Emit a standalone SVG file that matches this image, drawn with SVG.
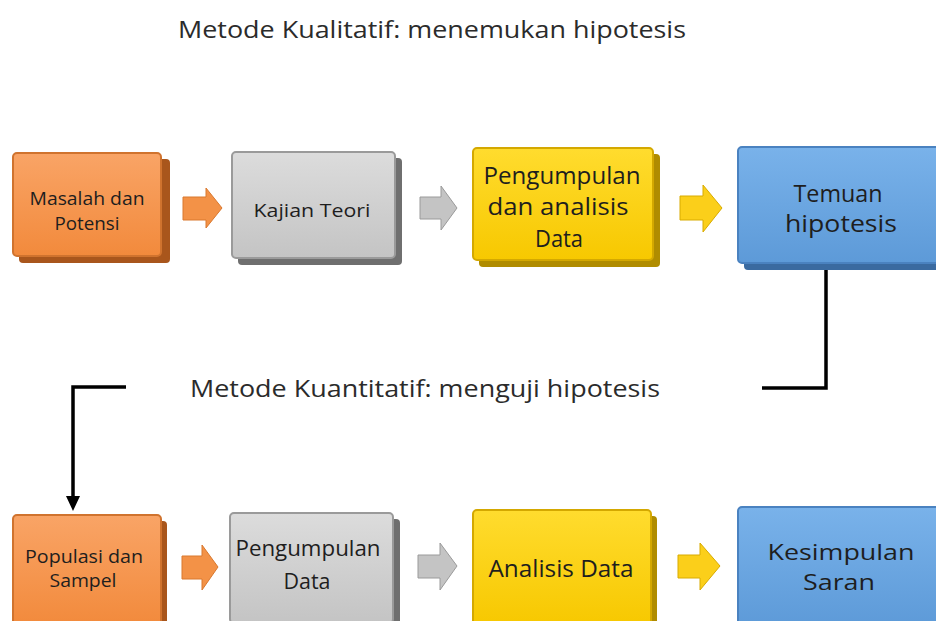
<svg xmlns="http://www.w3.org/2000/svg" width="936" height="621" viewBox="0 0 936 621">
<defs>
<linearGradient id="gOr" x1="0" y1="0" x2="0" y2="1"><stop offset="0" stop-color="#f9a466"/><stop offset="1" stop-color="#f28a3c"/></linearGradient>
<linearGradient id="gGr" x1="0" y1="0" x2="0" y2="1"><stop offset="0" stop-color="#dcdcdc"/><stop offset="1" stop-color="#c4c4c4"/></linearGradient>
<linearGradient id="gYe" x1="0" y1="0" x2="0" y2="1"><stop offset="0" stop-color="#ffdc2e"/><stop offset="1" stop-color="#f7c800"/></linearGradient>
<linearGradient id="gBl" x1="0" y1="0" x2="0" y2="1"><stop offset="0" stop-color="#79b2ea"/><stop offset="1" stop-color="#5d9ad8"/></linearGradient>
</defs>
<style>
text{font-family:"Open Sans","Noto Sans","DejaVu Sans",sans-serif;fill:#1e1e1e;text-anchor:middle}
.title{fill:#2b2b2b;text-anchor:start}
.bkOr{fill:#a9561c}.bkGr{fill:#6f6f6f}.bkYe{fill:#b08c00}.bkBl{fill:#3a6aa0}
.fOr{fill:url(#gOr);stroke:#d0732e;stroke-width:2}
.fGr{fill:url(#gGr);stroke:#9a9a9a;stroke-width:2}
.fYe{fill:url(#gYe);stroke:#d4a800;stroke-width:2}
.fBl{fill:url(#gBl);stroke:#4a82c0;stroke-width:2}
.aOr{fill:#f39247;stroke:#d9782e;stroke-width:1}
.aGr{fill:#c4c4c4;stroke:#9a9a9a;stroke-width:1}
.aYe{fill:#fbcf1a;stroke:#d8ab00;stroke-width:1}
.conn{fill:none;stroke:#000;stroke-width:3.5}
</style>
<rect width="936" height="621" fill="#fff"/>
<text class="title" x="178" y="38" font-size="24" textLength="508" lengthAdjust="spacingAndGlyphs">Metode Kualitatif: menemukan hipotesis</text>
<text class="title" x="190" y="397" font-size="23" textLength="470" lengthAdjust="spacingAndGlyphs">Metode Kuantitatif: menguji hipotesis</text>

<g id="n1">
<rect class="bkOr" x="19" y="159" width="151" height="104" rx="4"/>
<rect class="fOr" x="13" y="153" width="148" height="103" rx="4"/>
<text x="87" y="205" font-size="18" textLength="115" lengthAdjust="spacingAndGlyphs">Masalah dan</text>
<text x="87" y="230" font-size="18" textLength="65" lengthAdjust="spacingAndGlyphs">Potensi</text>
</g>
<g id="n2">
<rect class="bkGr" x="238" y="158" width="164" height="107" rx="4"/>
<rect class="fGr" x="232" y="152" width="163" height="106" rx="4"/>
<text x="312" y="217" font-size="19" textLength="117" lengthAdjust="spacingAndGlyphs">Kajian Teori</text>
</g>
<g id="n3">
<rect class="bkYe" x="479" y="154" width="181" height="113" rx="4"/>
<rect class="fYe" x="473" y="148" width="180" height="112" rx="4"/>
<text x="562" y="184" font-size="23" textLength="157" lengthAdjust="spacingAndGlyphs">Pengumpulan</text>
<text x="558" y="215" font-size="23" textLength="141" lengthAdjust="spacingAndGlyphs">dan analisis</text>
<text x="559" y="247" font-size="23" textLength="48" lengthAdjust="spacingAndGlyphs">Data</text>
</g>
<g id="n4">
<rect class="bkBl" x="744" y="153" width="210" height="117" rx="4"/>
<rect class="fBl" x="738" y="147" width="210" height="116" rx="4"/>
<text x="838" y="202" font-size="24" textLength="89" lengthAdjust="spacingAndGlyphs">Temuan</text>
<text x="841" y="232" font-size="24" textLength="112" lengthAdjust="spacingAndGlyphs">hipotesis</text>
</g>

<g id="n5">
<rect class="bkOr" x="19" y="521" width="148" height="110" rx="4"/>
<rect class="fOr" x="13" y="515" width="148" height="110" rx="4"/>
<text x="84" y="563" font-size="19" textLength="118" lengthAdjust="spacingAndGlyphs">Populasi dan</text>
<text x="83" y="587" font-size="19" textLength="67" lengthAdjust="spacingAndGlyphs">Sampel</text>
</g>
<g id="n6">
<rect class="bkGr" x="236" y="519" width="164" height="110" rx="4"/>
<rect class="fGr" x="230" y="513" width="163" height="110" rx="4"/>
<text x="308" y="556" font-size="22" textLength="145" lengthAdjust="spacingAndGlyphs">Pengumpulan</text>
<text x="307" y="589" font-size="22" textLength="47" lengthAdjust="spacingAndGlyphs">Data</text>
</g>
<g id="n7">
<rect class="bkYe" x="479" y="516" width="178" height="115" rx="4"/>
<rect class="fYe" x="473" y="510" width="178" height="115" rx="4"/>
<text x="561" y="577" font-size="23" textLength="145" lengthAdjust="spacingAndGlyphs">Analisis Data</text>
</g>
<g id="n8">
<rect class="bkBl" x="744" y="513" width="210" height="120" rx="4"/>
<rect class="fBl" x="738" y="507" width="210" height="120" rx="4"/>
<text x="841" y="560" font-size="22" textLength="147" lengthAdjust="spacingAndGlyphs">Kesimpulan</text>
<text x="839" y="590" font-size="22" textLength="72" lengthAdjust="spacingAndGlyphs">Saran</text>
</g>

<g id="arrows">
<path class="aOr" d="M183,197 H206 V188 L222,208 L206,228 V220 H183 Z"/>
<path class="aGr" d="M420,197 H441 V186 L457,208 L441,230 V219 H420 Z"/>
<path class="aYe" d="M680,196 H703 V185 L722,208 L703,232 V220 H680 Z"/>
<path class="aOr" d="M182,556 H202 V545 L218,567 L202,590 V579 H182 Z"/>
<path class="aGr" d="M418,555 H440 V543 L457,566 L440,590 V578 H418 Z"/>
<path class="aYe" d="M678,555 H700 V543 L720,566 L700,590 V578 H678 Z"/>
</g>

<g id="connectors">
<path class="conn" d="M826,270 V388 H762"/>
<path class="conn" d="M126,387 H73 V498"/>
<path d="M66,496 L80,496 L73,511 Z" fill="#000"/>
</g>
</svg>
